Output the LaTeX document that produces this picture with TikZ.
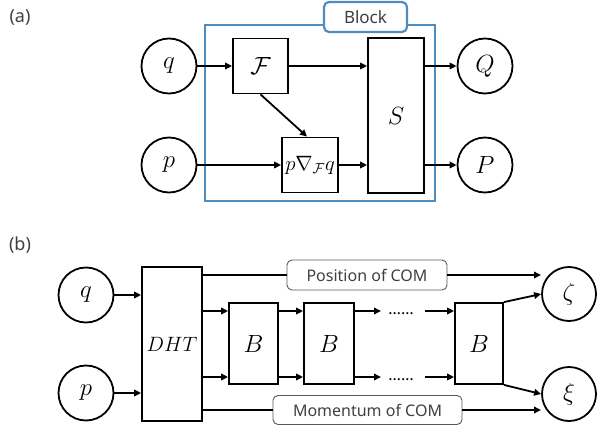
\documentclass[tikz,border=0pt]{standalone}
\usepackage{fontspec}
\setmainfont{Noto Sans}
\usetikzlibrary{arrows.meta,calc}
\definecolor{blockblue}{RGB}{80,140,190}
\definecolor{txtgray}{RGB}{64,64,64}
\newcommand\mfsize{\fontsize{20.74}{24}\selectfont}
\newcommand\mfbig{\fontsize{24.88}{28}\selectfont}
\begin{document}
\begin{tikzpicture}[x=1pt,y=-1pt,
 circ/.style={circle,draw,line width=1.8pt,minimum size=55pt,inner sep=0pt,font=\mfbig},
 box/.style={draw,line width=1.8pt,inner sep=0pt,font=\mfbig},
 arr/.style={line width=1.8pt,-{Triangle[length=7pt,width=6.5pt]}},
 ln/.style={line width=1.8pt},
 lbl/.style={font=\fontsize{18}{20}\selectfont,text=txtgray},
 tag/.style={draw=black!65,line width=0.9pt,rounded corners=5pt,fill=white,font=\fontsize{16}{18}\selectfont,text=txtgray,inner sep=0pt},
 dots/.style={font=\fontsize{16}{18}\selectfont\bfseries,inner sep=0pt,anchor=base}
]
\useasboundingbox (0,0) rectangle (597,431);

% ---------- (a) ----------
\node[lbl] (la) at (20,17) {(a)};
\node[draw=blockblue,line width=2.4pt,minimum width=230pt,minimum height=176pt,inner sep=0pt] (blk) at (320,113) {};
\node[tag,draw=blockblue,line width=2.2pt,minimum width=83pt,minimum height=30pt,font=\fontsize{17}{19}\selectfont] (btag) at (365.5,17) {Block};

\node[circ] (q) at (169,66) {$q$};
\node[circ] (p) at (169,165) {$p$};
\node[box,minimum width=55pt,minimum height=55pt] (F) at (260.5,66) {$\mathcal{F}$};
\node[box,minimum width=56pt,minimum height=55pt,font=\mfsize] (pn) at (310,165) {$p\nabla_{\mathcal{F}}q$};
\node[box,minimum width=56pt,minimum height=155pt] (S) at (396,115.5) {$S$};
\node[circ] (Q) at (485,66) {$Q$};
\node[circ] (P) at (485,165) {$P$};

\draw[arr] (q) -- (q -| F.west);
\draw[arr] (F.east) -- (F.east -| S.west);
\draw[arr] (p) -- (p -| pn.west);
\draw[arr] (pn.east) -- (pn.east -| S.west);
\draw[arr] (S.east |- Q) -- (Q.west);
\draw[arr] (S.east |- P) -- (P.west);
\coordinate (pnin) at ($(pn.north)+(-3,0)$);
\draw[arr] (F.south) -- (pnin);

% ---------- (b) ----------
\node[lbl] (lb) at (20,245) {(b)};
\node[circ] (q2) at (86,295) {$q$};
\node[circ] (p2) at (86,393) {$p$};
\node[box,minimum width=60pt,minimum height=154pt,font=\mfsize] (dht) at (172,344) {$DHT$};
\node[tag,minimum width=160pt,minimum height=30pt] (pos) at (367,275) {Position of COM};
\node[tag,minimum width=189pt,minimum height=29pt] (mom) at (367.5,410) {Momentum of COM};
\node[box,minimum width=49pt,minimum height=81pt] (b1) at (253.5,343.5) {$B$};
\node[box,minimum width=50pt,minimum height=81pt] (b2) at (329,343.5) {$B$};
\node[box,minimum width=48pt,minimum height=81pt] (b3) at (479,343.5) {$B$};
\node[circ,minimum size=54pt] (zeta) at (569,294) {$\zeta$};
\node[circ,minimum size=54pt] (xi) at (569,394) {$\xi$};

\draw[arr] (q2) -- (q2 -| dht.west);
\draw[arr] (p2) -- (p2 -| dht.west);

\draw[ln] (dht.east |- pos) -- (pos.west);
\coordinate (zin) at (541,275);
\draw[arr] (pos.east) -- (zin);
\draw[ln] (dht.east |- mom) -- (mom.west);
\coordinate (xin) at (541,410);
\draw[arr] (mom.east) -- (xin);

% rows
\coordinate (r1) at (0,311);
\coordinate (r2) at (0,377);
\draw[arr] (dht.east |- r1) -- (b1.west |- r1);
\draw[arr] (dht.east |- r2) -- (b1.west |- r2);
\draw[arr] (b1.east |- r1) -- (b2.west |- r1);
\draw[arr] (b1.east |- r2) -- (b2.west |- r2);
\coordinate (a1) at (381,311);
\coordinate (a2) at (381,377);
\draw[arr] (b2.east |- r1) -- (a1);
\draw[arr] (b2.east |- r2) -- (a2);
\node[dots] (d1) at (401,314) {……};
\node[dots] (d2) at (401,380) {……};
\coordinate (s1) at (425,311);
\coordinate (s2) at (425,377);
\draw[arr] (s1) -- (b3.west |- r1);
\draw[arr] (s2) -- (b3.west |- r2);

\draw[arr] (b3.north east) -- (zeta.west);
\draw[arr] (b3.south east) -- (xi.west);
\end{tikzpicture}
\end{document}
